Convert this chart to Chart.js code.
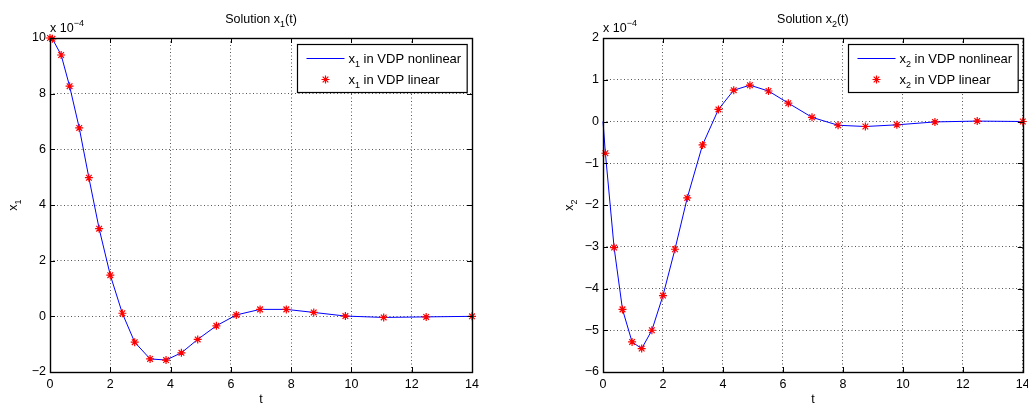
<!DOCTYPE html>
<html>
<head>
<meta charset="utf-8">
<script src="https://cdn.jsdelivr.net/npm/chart.js@4/dist/chart.umd.min.js"></script>
<style>
  html, body { margin: 0; padding: 0; background: #fff; width: 1028px; height: 404px; overflow: hidden; }
  .panel { position: absolute; top: 0; width: 514px; height: 404px; }
</style>
</head>
<body>
<div class="panel" style="left:0"><canvas id="c1" width="514" height="404"></canvas></div>
<div class="panel" style="left:514px"><canvas id="c2" width="514" height="404"></canvas></div>
<script>
// Solver time steps (s)
const timeSteps = [0, 0.08, 0.37, 0.65, 0.97, 1.29, 1.63, 2.0, 2.40, 2.81, 3.32, 3.85, 4.36, 4.90, 5.52, 6.18, 6.97, 7.84, 8.75, 9.80, 11.07, 12.48, 14];

// States in units of 1e-4
const x1Nonlinear = [10, 9.97, 9.39, 8.27, 6.77, 4.98, 3.15, 1.48, 0.11, -0.93, -1.53, -1.57, -1.31, -0.83, -0.34, 0.05, 0.25, 0.25, 0.14, 0.01, -0.04, -0.02, 0];
const x1Linear    = [10, 9.97, 9.39, 8.27, 6.77, 4.98, 3.15, 1.48, 0.11, -0.93, -1.53, -1.57, -1.31, -0.83, -0.34, 0.05, 0.25, 0.25, 0.14, 0.01, -0.04, -0.02, 0];
const x2Nonlinear = [0, -0.76, -3.02, -4.50, -5.28, -5.44, -5.00, -4.17, -3.06, -1.83, -0.56, 0.29, 0.75, 0.87, 0.73, 0.44, 0.10, -0.09, -0.12, -0.08, -0.01, 0.01, 0];
const x2Linear    = [null, -0.76, -3.02, -4.50, -5.28, -5.44, -5.00, -4.17, -3.06, -1.83, -0.56, 0.29, 0.75, 0.87, 0.73, 0.44, 0.10, -0.09, -0.12, -0.08, -0.01, 0.01, 0];

// Axis ranges and tick spacing
const tRange = [0, 14, 2];
const x1Range = [-2, 10, 2];
const x2Range = [-6, 2, 1];

const FONT = '"Liberation Sans", Arial, Helvetica, sans-serif';

// ---- text with sub/superscripts: "x_1", "10^{-4}" ----
function richParts(str) {
  const parts = [];
  let buf = '', i = 0;
  while (i < str.length) {
    const c = str[i];
    if (c === '_' || c === '^') {
      if (buf) { parts.push({ t: buf, k: 0 }); buf = ''; }
      let s;
      if (str[i + 1] === '{') { const j = str.indexOf('}', i); s = str.slice(i + 2, j); i = j + 1; }
      else { s = str[i + 1]; i += 2; }
      parts.push({ t: s.replace(/-/g, '\u2212'), k: c === '_' ? 1 : -1 });
    } else { buf += c; i++; }
  }
  if (buf) parts.push({ t: buf, k: 0 });
  return parts;
}
function richWidth(ctx, str, size) {
  let w = 0;
  for (const p of richParts(str)) {
    ctx.font = (p.k ? Math.round(size * 0.72) : size) + 'px ' + FONT;
    w += ctx.measureText(p.t).width;
  }
  return w;
}
function drawRich(ctx, str, x, y, size, align) {
  const w = richWidth(ctx, str, size);
  let cx = align === 'center' ? x - w / 2 : align === 'right' ? x - w : x;
  ctx.textBaseline = 'alphabetic';
  ctx.textAlign = 'left';
  for (const p of richParts(str)) {
    const fs = p.k ? Math.round(size * 0.72) : size;
    ctx.font = fs + 'px ' + FONT;
    const dy = p.k === 1 ? size * 0.32 : p.k === -1 ? -size * 0.45 : 0;
    ctx.fillText(p.t, cx, y + dy);
    cx += ctx.measureText(p.t).width;
  }
}

// ---- frame, inward ticks, titles, labels and legend ----
const framePlugin = {
  id: 'frame',
  afterDatasetsDraw(chart, args, opts) {
    const { ctx, chartArea: a, scales } = chart;
    ctx.save();
    ctx.strokeStyle = '#000';
    ctx.lineWidth = 1;
    // inward tick marks on all four sides
    ctx.beginPath();
    for (const t of scales.x.ticks) {
      const px = Math.round(scales.x.getPixelForValue(t.value)) + 0.5;
      ctx.moveTo(px, a.bottom); ctx.lineTo(px, a.bottom - 5);
      ctx.moveTo(px, a.top); ctx.lineTo(px, a.top + 5);
    }
    for (const t of scales.y.ticks) {
      const py = Math.round(scales.y.getPixelForValue(t.value)) + 0.5;
      ctx.moveTo(a.left, py); ctx.lineTo(a.left + 5, py);
      ctx.moveTo(a.right, py); ctx.lineTo(a.right - 5, py);
    }
    ctx.stroke();
    // axes box
    ctx.lineWidth = 1.4;
    ctx.strokeRect(Math.round(a.left) + 0.5, Math.round(a.top) + 0.5,
                   Math.round(a.right - a.left), Math.round(a.bottom - a.top));

    ctx.fillStyle = '#000';
    // title
    drawRich(ctx, opts.title, (a.left + a.right) / 2, 23, 12.5, 'center');
    // exponent note
    drawRich(ctx, 'x 10^{-4}', a.left, 32, 12.5, 'left');
    // x label
    drawRich(ctx, 't', (a.left + a.right) / 2, 403, 12.5, 'center');
    // y label (rotated)
    ctx.save();
    ctx.translate(opts.yLabelX, (a.top + a.bottom) / 2);
    ctx.rotate(-Math.PI / 2);
    drawRich(ctx, opts.yLabel, 0, 0, 12.5, 'center');
    ctx.restore();

    // legend: entries in dataset order
    const sets = chart.data.datasets;
    const size = 13;
    let tw = 0;
    for (const d of sets) tw = Math.max(tw, richWidth(ctx, d.label, size));
    const bw = 51 + tw + 6, bh = 48;
    const bx = Math.round(a.right - 5 - bw) + 0.5, by = Math.round(a.top + 6) + 0.5;
    ctx.fillStyle = '#fff';
    ctx.fillRect(bx, by, bw, bh);
    ctx.strokeStyle = '#000';
    ctx.lineWidth = 1.2;
    ctx.strokeRect(bx, by, bw, bh);
    sets.forEach((d, i) => {
      const ry = by + 14 + i * 21;
      if (d.showLine) {
        ctx.strokeStyle = d.borderColor;
        ctx.lineWidth = d.borderWidth;
        ctx.beginPath(); ctx.moveTo(bx + 9, ry); ctx.lineTo(bx + 47, ry); ctx.stroke();
      } else {
        ctx.strokeStyle = d.pointBorderColor;
        ctx.fillStyle = d.pointBackgroundColor;
        ctx.lineWidth = d.pointBorderWidth;
        Chart.helpers.drawPoint(ctx, { pointStyle: d.pointStyle, radius: d.pointRadius, borderWidth: d.pointBorderWidth }, bx + 28, ry);
      }
      ctx.fillStyle = '#000';
      drawRich(ctx, d.label, bx + 51, ry + 4.5, size, 'left');
    });
    ctx.restore();
  }
};

function pairs(xs, ys) {
  return xs.map((x, i) => ({ x, y: ys[i] }));
}

function makeChart(id, nonlin, lin, yRange, labels, geom) {
  const tickFont = { family: FONT, size: 12.5 };
  const minus = v => String(v).replace('-', '\u2212');
  return new Chart(document.getElementById(id), {
    type: 'scatter',
    data: {
      datasets: [
        {
          label: labels.nonlin,
          data: pairs(timeSteps, nonlin),
          showLine: true,
          borderColor: '#0000ff',
          borderWidth: 1,
          pointRadius: 0,
          pointHoverRadius: 0,
          tension: 0,
          clip: false,
          order: 1
        },
        {
          label: labels.lin,
          data: pairs(timeSteps, lin),
          showLine: false,
          pointStyle: 'star',
          pointRadius: 4,
          pointHoverRadius: 4,
          pointBorderWidth: 1.2,
          pointBorderColor: '#ff0000',
          pointBackgroundColor: '#ff0000',
          borderColor: '#ff0000',
          clip: false,
          order: 0
        }
      ]
    },
    options: {
      responsive: false,
      animation: false,
      events: [],
      layout: { padding: { top: 38, right: geom.padRight, left: 0, bottom: 0 } },
      plugins: {
        legend: { display: false },
        tooltip: { enabled: false },
        frame: { title: labels.title, yLabel: labels.y, yLabelX: geom.yLabelX }
      },
      scales: {
        x: {
          type: 'linear',
          min: tRange[0], max: tRange[1],
          ticks: { stepSize: tRange[2], color: '#000', font: tickFont, padding: 5, maxRotation: 0, callback: minus },
          grid: { color: '#555', lineWidth: 1, drawTicks: false },
          border: { display: false, dash: [1, 2.5] },
          afterFit(s) { s.height = 32; s.paddingLeft = 0; s.paddingRight = 0; }
        },
        y: {
          type: 'linear',
          min: yRange[0], max: yRange[1],
          ticks: { stepSize: yRange[2], color: '#000', font: tickFont, padding: 4, callback: minus },
          grid: { color: '#555', lineWidth: 1, drawTicks: false },
          border: { display: false, dash: [1, 2.5] },
          afterFit(s) { s.width = geom.left; s.paddingTop = 0; s.paddingBottom = 0; }
        }
      }
    },
    plugins: [framePlugin]
  });
}

makeChart('c1', x1Nonlinear, x1Linear, x1Range,
  { title: 'Solution x_1(t)', y: 'x_1', nonlin: 'x_1 in VDP nonlinear', lin: 'x_1 in VDP linear' },
  { left: 50, padRight: 42, yLabelX: 17 });

makeChart('c2', x2Nonlinear, x2Linear, x2Range,
  { title: 'Solution x_2(t)', y: 'x_2', nonlin: 'x_2 in VDP nonlinear', lin: 'x_2 in VDP linear' },
  { left: 89, padRight: 2, yLabelX: 59 });
</script>
</body>
</html>
